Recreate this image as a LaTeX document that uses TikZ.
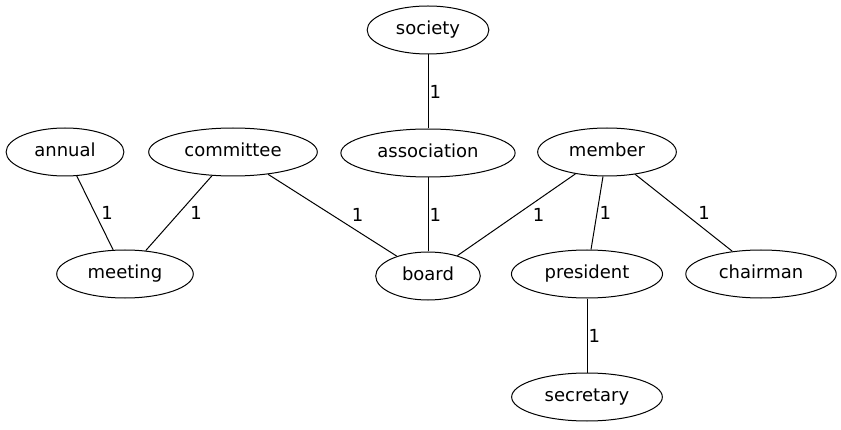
\documentclass[tikz,border=0pt]{standalone}
\usepackage{fontspec}
\setmainfont{DejaVu Sans}
\usetikzlibrary{shapes.geometric,positioning}

\begin{document}
\begin{tikzpicture}[x=1pt, y=1pt, node distance=74pt,
    concept/.style={ellipse, draw, line width=1pt, font=\fontsize{18}{22}\selectfont,
        inner xsep=11pt, inner ysep=2pt, minimum height=48pt,
        text height=13pt, text depth=4pt},
    card/.style={font=\fontsize{18}{22}\selectfont, inner sep=1pt},
    every path/.style={line width=1pt}]

    \useasboundingbox (0,0) rectangle (841,429);

    \node[concept] (society) at (428,399) {society};
    \node[concept] (association) [below = of society] {association};
    \node[concept] (board) [below = of association] {board};

    \node[concept] (annual) at (65,277) {annual};
    \node[concept] (committee) at (233,277) {committee};
    \node[concept] (member) at (607,277) {member};

    \node[concept] (meeting) at (125,155) {meeting};
    \node[concept] (president) at (587,155) {president};
    \node[concept] (chairman) at (761,155) {chairman};
    \node[concept] (secretary) [below = of president] {secretary};

    \draw (society) -- (association) node[card, midway, right]{1};
    \draw (annual) -- (meeting) node[card, midway, right, xshift=5pt]{1};
    \draw (committee) -- (meeting) node[card, midway, right, xshift=10pt]{1};
    \draw (committee) -- (board) node[card, midway, right, xshift=18pt]{1};
    \draw (association) -- (board) node[card, midway, right]{1};
    \draw (member) -- (board) node[card, midway, right, xshift=15pt]{1};
    \draw (member) -- (president) node[card, midway, right, xshift=1pt]{1};
    \draw (member) -- (chairman) node[card, midway, right, xshift=13pt]{1};
    \draw (president) -- (secretary) node[card, midway, right]{1};

\end{tikzpicture}
\end{document}
